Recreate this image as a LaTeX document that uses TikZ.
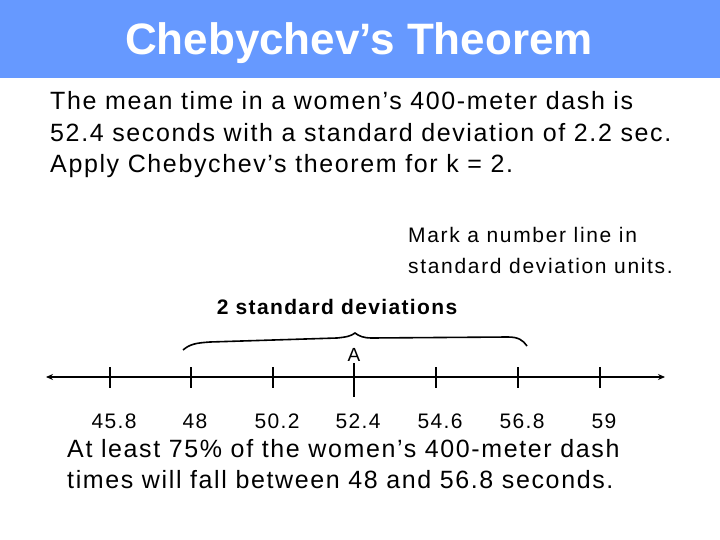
\documentclass[tikz,border=0pt]{standalone}
\usepackage{fontspec}
\usetikzlibrary{arrows.meta}
\setmainfont{Liberation Sans}
\newfontfamily\widefont{Liberation Sans}[LetterSpace=6.5]
\newfontfamily\widerfont{Liberation Sans}[LetterSpace=8]
\definecolor{titlebg}{HTML}{6699FF}
\begin{document}
\begin{tikzpicture}[x=1pt,y=-1pt,
  body/.style={anchor=base west,inner sep=0pt,font=\widefont\fontsize{25}{28}\selectfont},
  small/.style={anchor=base west,inner sep=0pt,font=\widerfont\fontsize{21}{24}\selectfont},
  num/.style={anchor=base,inner sep=0pt,font=\widefont\fontsize{21}{24}\selectfont},
  tick/.style={line width=2pt}]
\useasboundingbox (0,0) rectangle (720,540);
\fill[white] (0,0) rectangle (720,540);
\fill[titlebg] (0,0) rectangle (720,78);
\node[anchor=base,inner sep=0pt,text=white,font=\fontsize{44}{48}\selectfont\bfseries] (title) at (359,55) {Chebychev’s Theorem};
\node[body] (l1) at (50,110) {The mean time in a women’s 400-meter dash is};
\node[body] (l2) at (50,142) {52.4 seconds with a standard deviation of 2.2 sec.};
\node[body] (l3) at (50,173) {Apply Chebychev’s theorem for k = 2.};
\node[small] (m1) at (408,243) {Mark a number line in};
\node[small] (m2) at (408,273) {standard deviation units.};
\node[anchor=base,inner sep=0pt,font=\widefont\fontsize{21}{24}\selectfont\bfseries] (sd) at (337,314) {2 standard deviations};
\node[anchor=base,inner sep=0pt,font=\fontsize{19}{22}\selectfont] (A) at (354,361) {A};
\coordinate (L) at (46,377);
\coordinate (R) at (665,377);
\draw[line width=2pt,{Stealth[length=7pt,width=6pt]}-{Stealth[length=7pt,width=6pt]}] (L) -- (R);
\foreach \x/\v in {110/45.8,191/48,273/50.2,436/54.6,518/56.8,600/59}{
  \draw[tick] (\x,367) -- (\x,388);
  \node[num] at (\x+4,428) {\v};
}
\draw[tick] (354,363) -- (354,397);
\node[num] at (358,428) {52.4};
\draw[line width=1.6pt] (183,350) .. controls (190,344) and (196,343) .. (210,342)
  -- (337,338) .. controls (347,337) and (351,336) .. (355,333)
  .. controls (359,336) and (363,338) .. (372,338)
  -- (508,337) .. controls (518,337) and (523,340) .. (527,346);
\node[body] (b1) at (67,457) {At least 75\% of the women’s 400-meter dash};
\node[body] (b2) at (67,488) {times will fall between 48 and 56.8 seconds.};
\end{tikzpicture}
\end{document}
